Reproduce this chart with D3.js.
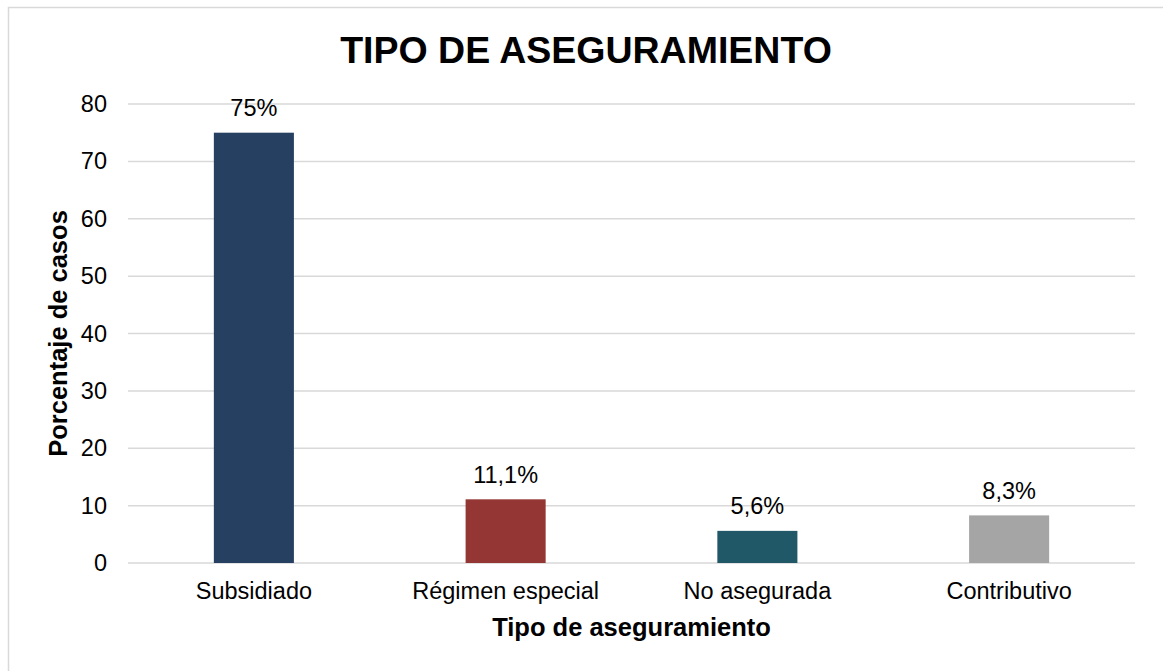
<!DOCTYPE html>
<html>
<head>
<meta charset="utf-8">
<script src="https://cdn.jsdelivr.net/npm/d3@7"></script>
<style>
  body { margin: 0; background: #fff; }
  text { font-family: "Liberation Sans", Arial, sans-serif; fill: #000; }
</style>
</head>
<body>
<svg id="chart"></svg>
<script>
const categories = ['Subsidiado', 'Régimen especial', 'No asegurada', 'Contributivo'];
const values = [75, 11.1, 5.6, 8.3];
const valueLabels = ['75%', '11,1%', '5,6%', '8,3%'];
const barColors = ['#264061', '#943634', '#215868', '#A5A5A5'];
const yTicks = [0, 10, 20, 30, 40, 50, 60, 70, 80];

const width = 1163, height = 671;
const margin = { top: 104, right: 28, bottom: 108, left: 128 };

const svg = d3.select('#chart')
  .attr('width', width)
  .attr('height', height);

// chart frame
svg.append('rect')
  .attr('x', 8.5).attr('y', 7.5)
  .attr('width', width).attr('height', height)
  .attr('fill', 'none')
  .attr('stroke', '#d9d9d9')
  .attr('stroke-width', 1.5);

const x = d3.scaleBand()
  .domain(categories)
  .range([margin.left, width - margin.right])
  .paddingInner(0.682)
  .paddingOuter(0.341);

const y = d3.scaleLinear()
  .domain([0, 80])
  .range([height - margin.bottom, margin.top]);

// grid
svg.append('g')
  .selectAll('line')
  .data(yTicks)
  .enter()
  .append('line')
  .attr('x1', margin.left)
  .attr('x2', width - margin.right)
  .attr('y1', d => y(d))
  .attr('y2', d => y(d))
  .attr('stroke', '#d9d9d9')
  .attr('stroke-width', 1.5);

// y axis
const yAxis = svg.append('g')
  .attr('transform', `translate(${margin.left},0)`)
  .call(d3.axisLeft(y).tickValues(yTicks).tickSize(0).tickPadding(21));
yAxis.select('.domain').remove();
yAxis.selectAll('text')
  .style('font-size', '23.5px')
  .style('font-family', '"Liberation Sans", Arial, sans-serif');

// x axis
const xAxis = svg.append('g')
  .attr('transform', `translate(0,${y(0)})`)
  .call(d3.axisBottom(x).tickSize(0).tickPadding(19.5));
xAxis.select('.domain').remove();
xAxis.selectAll('text')
  .style('font-size', '23.5px')
  .style('font-family', '"Liberation Sans", Arial, sans-serif');

// bars
svg.append('g')
  .selectAll('rect')
  .data(categories)
  .enter()
  .append('rect')
  .attr('x', d => x(d))
  .attr('width', x.bandwidth())
  .attr('y', (d, i) => y(values[i]))
  .attr('height', (d, i) => y(0) - y(values[i]))
  .attr('fill', (d, i) => barColors[i]);

// data labels
svg.append('g')
  .selectAll('text')
  .data(categories)
  .enter()
  .append('text')
  .attr('x', d => x(d) + x.bandwidth() / 2)
  .attr('y', (d, i) => y(values[i]) - 16.5)
  .attr('text-anchor', 'middle')
  .style('font-size', '23.5px')
  .text((d, i) => valueLabels[i]);

// title
svg.append('text')
  .attr('x', 586)
  .attr('y', 63)
  .attr('text-anchor', 'middle')
  .style('font-size', '37.5px')
  .style('font-weight', 'bold')
  .text('TIPO DE ASEGURAMIENTO');

// axis titles
svg.append('text')
  .attr('x', (margin.left + width - margin.right) / 2)
  .attr('y', 636)
  .attr('text-anchor', 'middle')
  .style('font-size', '25.5px')
  .style('font-weight', 'bold')
  .text('Tipo de aseguramiento');

svg.append('text')
  .attr('transform', `translate(67,${(y(0) + y(80)) / 2}) rotate(-90)`)
  .attr('text-anchor', 'middle')
  .style('font-size', '25.5px')
  .style('font-weight', 'bold')
  .text('Porcentaje de casos');
</script>
</body>
</html>
